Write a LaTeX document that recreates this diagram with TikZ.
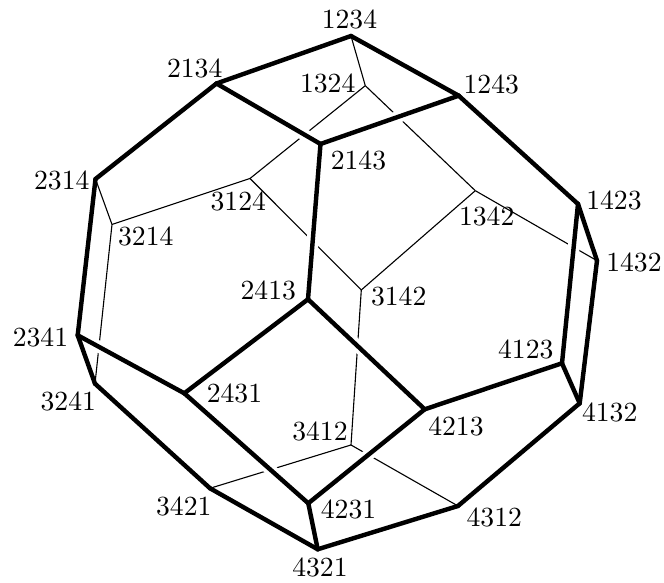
\documentclass[tikz,border=0pt]{standalone}
\usepackage{tikz}
\tikzset{
  outer/.style={line width=1.6pt,line cap=round},
  inner/.style={line width=0.4pt},
  gap/.style={white,line width=4.3pt},
  perm/.style={inner sep=0pt}
}
\begin{document}
\begin{tikzpicture}[x=0.3615pt,y=-0.3615pt]
\useasboundingbox (0,0) rectangle (664,583);
% vertices
\foreach \name/\px/\py in {1234/351/36,2134/216.5/83.5,1243/458.7/95.7,2143/320.5/144,1324/365.3/85.7,3124/250/178.5,
  2314/95.5/179,3214/112/224.5,1342/475.3/190.7,1423/578/204,1432/597/260.7,3142/361.3/290,
  2413/308/299.3,2341/77.7/335.3,3241/95/383.7,2431/184.3/393.3,4123/562/363.3,4132/579.7/403.3,
  4213/424.7/409.3,3412/351/445,3421/210/488.3,4231/308.3/503.3,4312/458/506,4321/317.7/549.3}
  \coordinate (v\name) at (\px,\py);
% hidden edges
\foreach \a/\b in {1234/1324,1324/3124,3124/3214,3214/2314,3214/3241,3124/3142,
  1324/1342,1342/1432,1342/3142,3142/3412,3412/3421,3412/4312}
  \draw[inner] (v\a) -- (v\b);
% white breaks where a hidden edge passes behind
\foreach \a/\b in {2134/2143,2143/2413,1243/2143,1423/4123,2341/2431,2431/4231,2413/4213,4213/4231}
  \draw[gap] (v\a) -- (v\b);
% front edges
\foreach \a/\b in {1234/2134,1234/1243,2134/2143,1243/2143,2134/2314,2143/2413,
  2314/2341,2341/2431,2413/2431,2413/4213,2431/4231,4213/4231,4213/4123,1243/1423,
  1423/4123,1423/1432,1432/4132,4123/4132,4132/4312,4312/4321,4231/4321,3421/4321,
  3241/3421,2341/3241}
  \draw[outer] (v\a) -- (v\b);
% labels
\foreach \name/\lx/\ly in {1234/349.5/19,2134/194.7/68.3,1243/491.3/84,2143/358.5/160,1324/327.7/83.3,3124/238.3/201.7,
  2314/61.8/180.7,3214/145.8/236.7,1342/486.7/216.7,1423/614/200.7,1432/634/262,3142/398.7/296,
  2413/268.3/290,2341/40.5/337,3241/68.3/401,2431/234.5/393.7,4123/525.8/349.3,4132/609.7/412.7,
  4213/456/426,3412/320/431.7,3421/183.8/506.7,4231/348.5/509.3,4312/494.3/517.7,4321/320/567.7}
  \node[perm] (l\name) at (\lx,\ly) {\name};
\end{tikzpicture}
\end{document}
